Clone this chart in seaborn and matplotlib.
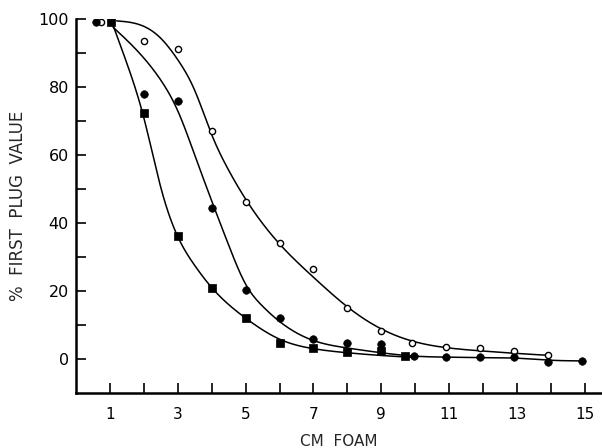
import numpy as np
import pandas as pd
import matplotlib
matplotlib.use("Agg")
import matplotlib.pyplot as plt
import seaborn as sns

# ---- data points ----
open_x = [0.75, 2, 3, 4, 5, 6, 7, 8, 9, 9.9, 10.9, 11.9, 12.9, 13.9]
open_y = [99, 93.5, 91, 67, 46, 34, 26.5, 15, 8.2, 4.7, 3.4, 3.1, 2.2, 1.2]

filled_x = [0.6, 2, 3, 4, 5, 6, 7, 8, 9, 9.95, 10.9, 11.9, 12.9, 13.9, 14.9]
filled_y = [99, 78, 75.7, 44.5, 20.3, 12, 5.8, 4.7, 4.4, 0.8, 0.6, 0.6, 0.6, -0.9, -0.6]

square_x = [1.05, 2, 3, 4, 5, 6, 7, 8, 9, 9.7]
square_y = [99, 72.3, 36.2, 20.9, 12.1, 4.8, 3.2, 2.0, 2.2, 0.9]

# ---- fitted curves (knots) ----
open_cx = [1.2, 2, 2.5, 3, 3.5, 4, 4.5, 5, 6, 7, 8, 9, 10, 11, 12, 13, 14]
open_cy = [99.4, 97.8, 94.3, 88, 79, 66, 55.5, 47, 33.8, 24, 15.3, 8.8, 5.0, 3.2, 2.3, 1.6, 1.0]

filled_cx = [1.1, 2, 2.5, 3, 3.5, 4, 4.5, 5, 5.5, 6, 7, 8, 9, 10, 11, 12, 13, 14, 15]
filled_cy = [97.5, 88.5, 82, 73, 60, 46.5, 33.5, 22, 15.5, 11, 5.4, 3.2, 1.8, 0.8, 0.5, 0.35, 0.2, -0.4, -0.6]

square_cx = [1.1, 1.5, 2, 2.5, 3, 3.5, 4, 5, 6, 7, 8, 9, 10]
square_cy = [98, 87, 71, 50.5, 36, 27.5, 21, 12, 5.8, 3.0, 1.8, 1.0, 0.4]

x_ticks = list(range(1, 16))
x_labels = [str(v) if v % 2 == 1 else "" for v in x_ticks]
y_ticks = list(range(0, 101, 10))
y_labels = [str(v) if v % 20 == 0 else "" for v in y_ticks]


def spline(xs, ys, n=600):
    """Natural cubic spline rendering of a hand-read curve."""
    x = np.asarray(xs, float)
    y = np.asarray(ys, float)
    N = len(x)
    h = np.diff(x)
    A = np.zeros((N, N))
    b = np.zeros(N)
    A[0, 0] = 1
    A[-1, -1] = 1
    for i in range(1, N - 1):
        A[i, i - 1] = h[i - 1]
        A[i, i] = 2 * (h[i - 1] + h[i])
        A[i, i + 1] = h[i]
        b[i] = 6 * ((y[i + 1] - y[i]) / h[i] - (y[i] - y[i - 1]) / h[i - 1])
    M = np.linalg.solve(A, b)
    xx = np.linspace(x[0], x[-1], n)
    idx = np.clip(np.searchsorted(x, xx) - 1, 0, N - 2)
    x0, x1 = x[idx], x[idx + 1]
    hi = h[idx]
    yy = (M[idx] * (x1 - xx) ** 3 / (6 * hi) + M[idx + 1] * (xx - x0) ** 3 / (6 * hi)
          + (y[idx] / hi - M[idx] * hi / 6) * (x1 - xx)
          + (y[idx + 1] / hi - M[idx + 1] * hi / 6) * (xx - x0))
    return xx, yy


sns.set_style("ticks")
plt.rcParams["font.family"] = ["DejaVu Sans"]

fig = plt.figure(figsize=(6.02, 4.48), dpi=100)
ax = fig.add_axes([0.126, 0.123, 0.874, 0.835])

for cx, cy in [(open_cx, open_cy), (filled_cx, filled_cy), (square_cx, square_cy)]:
    sx, sy = spline(cx, cy)
    df = pd.DataFrame({"x": sx, "y": sy})
    sns.lineplot(data=df, x="x", y="y", ax=ax, color="black", lw=1.1,
                 sort=False, estimator=None)

sns.scatterplot(x=open_x, y=open_y, ax=ax, marker="o", s=20,
                facecolor="white", edgecolor="black", linewidth=1.0, zorder=3)
sns.scatterplot(x=filled_x, y=filled_y, ax=ax, marker="o", s=30,
                color="black", edgecolor="black", zorder=3)
sns.scatterplot(x=square_x, y=square_y, ax=ax, marker="s", s=40,
                color="black", edgecolor="black", zorder=3)

ax.set_xlim(0, 15.5)
ax.set_ylim(-10, 100)
ax.set_xticks(x_ticks)
ax.set_xticklabels(x_labels, fontsize=11)
ax.set_yticks(y_ticks)
ax.set_yticklabels(y_labels, fontsize=11.5)
ax.tick_params(direction="in", length=7, width=1.2, pad=5, colors="black")
ax.tick_params(axis="x", pad=10)
for s in ["top", "right"]:
    ax.spines[s].set_visible(False)
for s in ["left", "bottom"]:
    ax.spines[s].set_linewidth(1.8)
    ax.spines[s].set_color("black")

ax.set_xlabel("CM  FOAM", fontsize=11, labelpad=9)
ax.set_ylabel("%  FIRST  PLUG  VALUE", fontsize=12, labelpad=8)

fig.savefig("out.png", dpi=100)
